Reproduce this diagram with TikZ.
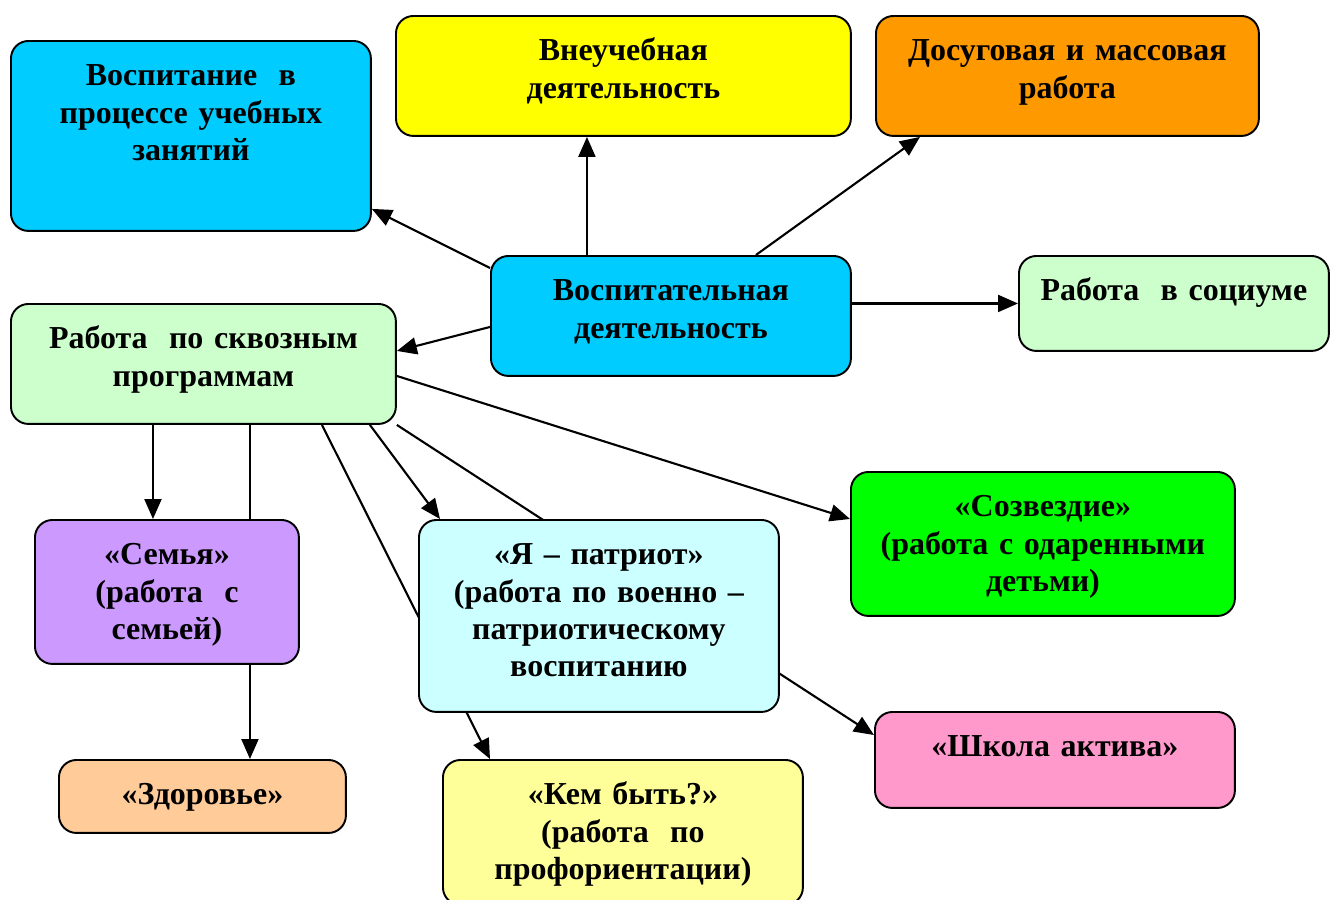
\documentclass[tikz,border=0pt]{standalone}
\usepackage{fontspec}
\setmainfont{Liberation Serif}
\usepackage{tikz}
\usetikzlibrary{arrows.meta}
\usetikzlibrary{backgrounds}
\definecolor{Goluboy}{HTML}{00CCFF}
\definecolor{Zhelty}{HTML}{FFFF00}
\definecolor{Oranzh}{HTML}{FF9900}
\definecolor{Salat}{HTML}{CCFFCC}
\definecolor{Siren}{HTML}{CC99FF}
\definecolor{Biruza}{HTML}{CCFFFF}
\definecolor{Zeleny}{HTML}{00FF00}
\definecolor{Rozovy}{HTML}{FF99CC}
\definecolor{Persik}{HTML}{FFCC99}
\definecolor{Limon}{HTML}{FFFF99}
\tikzset{blok/.style={draw, line width=1.1pt, rounded corners=0.35cm,
    anchor=north west, align=center, inner sep=0pt, text height=0.9cm,
    font=\bfseries\fontsize{18.2pt}{21.1pt}\selectfont},
  strelka/.style={line width=1.2pt, -{Triangle[length=0.4cm,width=0.34cm]}}}

\begin{document}
\begin{tikzpicture}[x=0.02cm, y=-0.02cm]
  \useasboundingbox (0,0) rectangle (1330,900);
  \node[blok, fill=Goluboy, text width=7.2cm, text depth=2.9cm] (ucheb) at (10,40)
    {Воспитание\ \ в\\процессе учебных\\занятий};
  \node[blok, fill=Zhelty, text width=9.1cm, text depth=1.5cm] (vneuch) at (395,15)
    {Внеучебная\\деятельность};
  \node[blok, fill=Oranzh, text width=7.66cm, text depth=1.5cm] (dosug) at (875,15)
    {Досуговая и массовая\\работа};
  \node[blok, fill=Goluboy, text width=7.2cm, text depth=1.5cm] (vosp) at (490,255)
    {Воспитательная\\деятельность};
  \node[blok, fill=Salat, text width=6.2cm, text depth=1.0cm] (socium) at (1018,255)
    {Работа\ \ в социуме};
  \node[blok, fill=Salat, text width=7.7cm, text depth=1.5cm] (progr) at (10,303)
    {Работа\ \ по сквозным\\программам};
  \node[blok, fill=Siren, text width=5.28cm, text depth=1.98cm] (semya) at (34,519)
    {«Семья»\\(работа\ \ с\\семьей)};
  \node[blok, fill=Biruza, text width=7.2cm, text depth=2.94cm] (patriot) at (418,519)
    {«Я – патриот»\\(работа по военно –\\патриотическому\\воспитанию};
  \node[blok, fill=Zeleny, text width=7.68cm, text depth=1.98cm] (sozv) at (850,471)
    {«Созвездие»\\(работа с одаренными\\детьми)};
  \node[blok, fill=Rozovy, text width=7.2cm, text depth=1.02cm] (aktiv) at (874,711)
    {«Школа актива»};
  \node[blok, fill=Persik, text width=5.74cm, text depth=0.56cm] (zdorov) at (58,759)
    {«Здоровье»};
  \node[blok, fill=Limon, text width=7.2cm, text depth=2.0cm] (kem) at (442,759)
    {«Кем быть?»\\(работа\ \ по\\профориентации)};
  \begin{pgfonlayer}{background}
    \draw[strelka] ([yshift=-0.26cm]vosp.north west) -- ([yshift=0.46cm]ucheb.south east);
    \draw[strelka] ([xshift=-1.68cm]vosp.north) -- ([xshift=-1.68cm]vosp.north |- vneuch.south);
    \draw[strelka] ([xshift=1.7cm]vosp.north) -- ([xshift=0.9cm]dosug.south west);
    \draw[strelka] (vosp.east |- socium.west) -- (socium.west);
    \draw[strelka] ([yshift=-0.22cm]vosp.west) -- ([yshift=0.26cm]progr.east);
    \draw[strelka] ([xshift=2.86cm]progr.south west) -- ([xshift=2.86cm]progr.south west |- semya.north);
    \draw[strelka] ([xshift=4.8cm]progr.south west) -- ([xshift=4.8cm]progr.south west |- zdorov.north);
    \draw[strelka] ([xshift=6.24cm]progr.south west) -- ([xshift=0.96cm]kem.north west);
    \draw[strelka] ([xshift=7.2cm]progr.south west) -- ([xshift=0.44cm]patriot.north west);
    \draw[strelka] (progr.south east) -- ([yshift=-0.48cm]aktiv.north west);
    \draw[strelka] ([yshift=-0.24cm]progr.east) -- ([yshift=-0.96cm]sozv.north west);
  \end{pgfonlayer}
\end{tikzpicture}
\end{document}
